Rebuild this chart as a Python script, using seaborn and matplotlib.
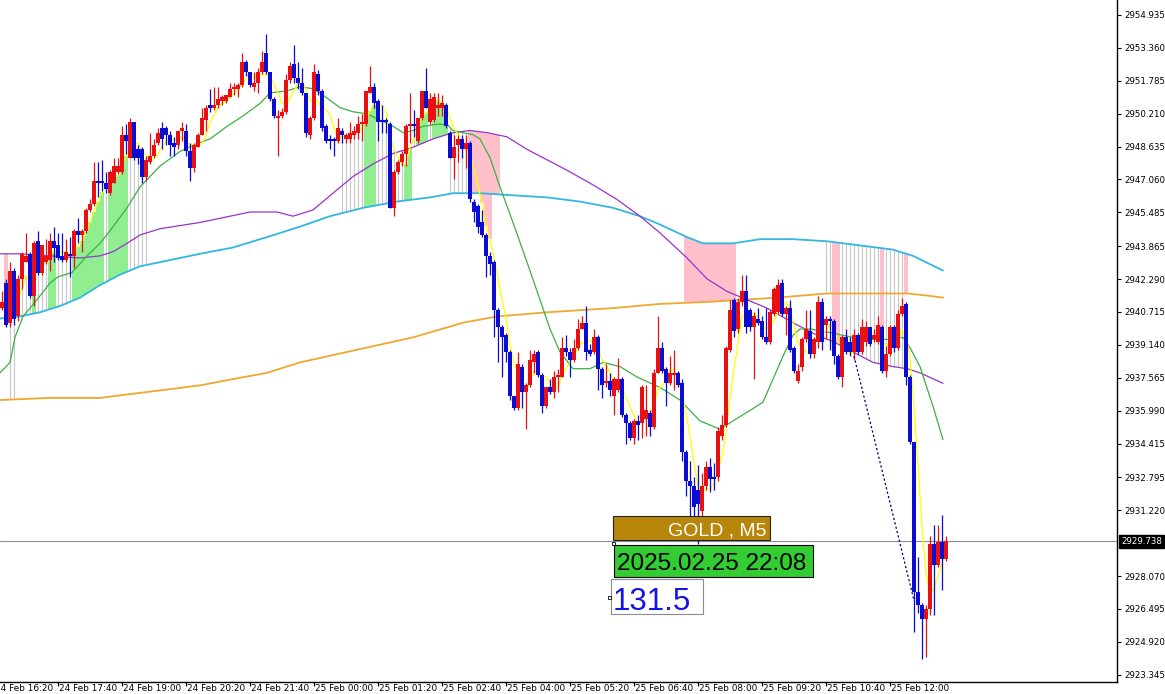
import numpy as np
import pandas as pd
import matplotlib
matplotlib.use('Agg')  # no display
import matplotlib.pyplot as plt
from matplotlib.patches import Rectangle
import seaborn as sns

# GOLD M5 candles, bar 0 = 24 Feb 16:30
opens = [
    2940.9, 2942.1, 2940.2, 2942.7, 2940.5, 2942.3, 2943.1, 2943.5, 2941.5, 2944.1,
    2942.6, 2943.1, 2943.2, 2944.1, 2943.9, 2943.4, 2943.2, 2943.5, 2943.4, 2944.6,
    2944.4, 2944.6, 2945.6, 2945.9, 2947.0, 2947.0, 2946.9, 2946.4, 2946.9, 2947.4,
    2947.4, 2949.2, 2948.1, 2949.8, 2948.5, 2948.5, 2947.2, 2947.9, 2948.2, 2948.8,
    2949.5, 2949.5, 2949.2, 2948.8, 2948.7, 2949.4, 2949.4, 2948.4, 2947.6, 2948.6,
    2949.2, 2949.9, 2950.6, 2950.5, 2950.6, 2950.8, 2950.8, 2951.0, 2951.4, 2951.4,
    2951.6, 2952.7, 2952.2, 2951.5, 2951.7, 2952.2, 2953.1, 2952.2, 2950.9, 2950.0,
    2950.1, 2950.3, 2951.8, 2952.6, 2951.9, 2951.7, 2951.2, 2949.2, 2950.0, 2952.1,
    2951.3, 2949.6, 2949.0, 2949.0, 2948.9, 2949.4, 2949.0, 2949.0, 2949.2, 2949.3,
    2949.7, 2949.7, 2951.2, 2951.5, 2950.8, 2949.9, 2949.9, 2949.7, 2945.7, 2947.4,
    2947.9, 2948.3, 2949.6, 2949.7, 2948.9, 2950.0, 2951.3, 2949.8, 2949.9, 2950.5,
    2950.5, 2950.6, 2949.3, 2948.1, 2948.7, 2949.0, 2948.5, 2948.8, 2946.0, 2945.8,
    2945.0, 2944.4, 2943.4, 2943.1, 2940.8, 2940.0, 2939.6, 2938.8, 2936.7, 2936.1,
    2938.1, 2936.9, 2937.2, 2938.3, 2938.8, 2937.7, 2936.2, 2937.1, 2936.9, 2937.6,
    2937.6, 2939.0, 2938.8, 2938.4, 2939.0, 2939.9, 2940.2, 2938.9, 2938.8, 2939.5,
    2938.0, 2937.3, 2937.4, 2936.7, 2937.0, 2937.5, 2935.8, 2935.4, 2934.7, 2935.5,
    2935.4, 2935.6, 2935.9, 2935.2, 2937.8, 2939.0, 2938.0, 2937.3, 2937.7, 2937.8,
    2937.3, 2934.0, 2932.6, 2932.4, 2932.2, 2931.2, 2932.4, 2933.3, 2932.8, 2932.8,
    2934.8, 2935.3, 2938.9, 2941.3, 2939.9, 2941.2, 2941.7, 2940.8, 2940.0, 2940.4,
    2940.3, 2939.5, 2939.3, 2940.6, 2940.7, 2942.1, 2940.6, 2940.9, 2939.0, 2937.4,
    2938.1, 2939.4, 2939.8, 2938.7, 2939.3, 2941.2, 2940.1, 2940.4, 2940.3, 2938.6,
    2937.6, 2939.5, 2939.3, 2938.8, 2939.6, 2938.8, 2939.3, 2940.0, 2939.4, 2939.3,
    2940.0, 2937.9, 2938.7, 2940.0, 2939.0, 2940.6, 2941.1, 2937.6, 2934.5, 2927.3,
    2926.7, 2926.0, 2926.5, 2929.6, 2928.6, 2929.7, 2928.9,
]
highs = [
    2941.7, 2942.3, 2943.1, 2942.8, 2942.5, 2943.6, 2944.5, 2943.6, 2944.1, 2944.6,
    2943.9, 2944.2, 2944.5, 2944.8, 2944.5, 2944.5, 2944.2, 2944.3, 2944.7, 2945.2,
    2944.7, 2945.7, 2946.1, 2947.9, 2947.9, 2948.0, 2947.4, 2947.5, 2948.1, 2948.1,
    2949.6, 2949.7, 2950.0, 2949.8, 2948.7, 2948.6, 2948.2, 2949.3, 2949.0, 2949.5,
    2949.8, 2949.6, 2949.4, 2949.1, 2949.4, 2949.8, 2949.7, 2948.8, 2948.8, 2949.3,
    2950.5, 2950.6, 2951.4, 2951.5, 2951.5, 2951.1, 2951.1, 2951.7, 2951.7, 2951.7,
    2953.1, 2952.8, 2952.2, 2952.2, 2952.4, 2953.2, 2954.0, 2952.2, 2951.0, 2950.4,
    2950.5, 2952.1, 2952.7, 2953.5, 2952.7, 2952.4, 2951.2, 2950.1, 2952.6, 2952.3,
    2951.4, 2949.7, 2949.2, 2949.1, 2950.0, 2949.5, 2949.3, 2949.8, 2949.6, 2950.1,
    2950.2, 2951.3, 2952.5, 2951.7, 2950.9, 2950.6, 2950.0, 2949.8, 2947.5, 2948.0,
    2948.4, 2949.7, 2951.2, 2950.4, 2950.0, 2951.3, 2952.4, 2951.2, 2951.2, 2951.2,
    2951.1, 2950.7, 2949.4, 2949.2, 2949.2, 2949.2, 2949.2, 2948.9, 2946.1, 2945.9,
    2945.6, 2944.5, 2943.6, 2943.2, 2940.9, 2940.1, 2939.7, 2938.9, 2936.7, 2938.8,
    2938.2, 2937.3, 2938.9, 2938.9, 2938.9, 2937.8, 2937.1, 2937.5, 2937.9, 2938.0,
    2939.5, 2939.6, 2939.0, 2939.4, 2940.4, 2940.5, 2941.0, 2939.2, 2939.9, 2939.6,
    2938.1, 2938.2, 2937.8, 2937.6, 2938.5, 2937.6, 2935.9, 2935.5, 2935.6, 2935.8,
    2937.2, 2937.2, 2936.0, 2938.0, 2940.5, 2939.3, 2938.1, 2938.6, 2938.9, 2937.9,
    2937.5, 2934.1, 2933.6, 2932.8, 2933.4, 2933.0, 2933.6, 2933.7, 2933.5, 2935.2,
    2935.8, 2939.1, 2941.3, 2941.4, 2941.4, 2942.5, 2942.5, 2940.9, 2940.7, 2940.9,
    2940.5, 2940.9, 2940.8, 2941.9, 2942.3, 2942.3, 2941.0, 2941.3, 2939.1, 2938.2,
    2939.5, 2940.8, 2940.8, 2939.5, 2941.5, 2941.4, 2940.5, 2940.5, 2940.4, 2938.7,
    2939.6, 2939.9, 2939.5, 2939.9, 2939.7, 2940.4, 2940.3, 2940.0, 2939.9, 2940.5,
    2940.1, 2939.1, 2940.1, 2940.1, 2940.8, 2941.4, 2941.2, 2937.7, 2934.5, 2929.0,
    2926.8, 2926.7, 2930.0, 2930.5, 2930.5, 2931.0, 2930.0,
]
lows = [
    2940.8, 2940.0, 2940.0, 2940.1, 2940.3, 2941.8, 2943.1, 2941.4, 2941.0, 2942.5,
    2942.5, 2943.0, 2942.7, 2943.1, 2943.2, 2943.1, 2943.1, 2942.4, 2942.8, 2944.0,
    2943.6, 2944.5, 2945.5, 2945.8, 2946.2, 2946.5, 2946.4, 2946.3, 2946.9, 2947.3,
    2947.3, 2948.3, 2948.1, 2948.0, 2947.8, 2946.9, 2947.0, 2947.8, 2948.1, 2948.7,
    2948.5, 2948.7, 2948.2, 2948.2, 2948.5, 2948.9, 2948.2, 2947.0, 2947.4, 2948.6,
    2949.2, 2949.4, 2950.3, 2950.4, 2950.5, 2950.6, 2950.7, 2951.0, 2951.1, 2951.0,
    2951.5, 2952.0, 2951.5, 2951.3, 2951.2, 2952.1, 2952.1, 2950.8, 2950.0, 2948.2,
    2950.0, 2950.2, 2951.7, 2951.7, 2951.4, 2951.1, 2949.1, 2949.0, 2949.9, 2951.1,
    2949.4, 2948.8, 2948.5, 2948.2, 2948.8, 2948.8, 2948.8, 2948.8, 2949.0, 2949.0,
    2948.9, 2949.6, 2951.2, 2950.5, 2948.9, 2949.3, 2949.3, 2945.7, 2945.3, 2947.3,
    2947.7, 2947.7, 2948.8, 2949.1, 2948.8, 2949.9, 2950.5, 2949.7, 2949.8, 2950.1,
    2950.1, 2949.5, 2948.1, 2947.1, 2947.9, 2948.1, 2947.6, 2946.0, 2945.0, 2944.5,
    2944.3, 2942.4, 2942.5, 2939.5, 2938.3, 2937.6, 2938.3, 2936.5, 2936.0, 2936.0,
    2936.1, 2935.1, 2937.1, 2937.8, 2937.6, 2935.9, 2936.1, 2936.8, 2936.6, 2936.9,
    2937.6, 2938.6, 2937.6, 2938.3, 2938.9, 2939.9, 2938.4, 2938.6, 2938.7, 2937.0,
    2936.6, 2937.1, 2936.7, 2935.8, 2936.9, 2935.7, 2934.4, 2934.6, 2934.4, 2934.6,
    2934.7, 2934.8, 2934.8, 2935.1, 2937.8, 2937.8, 2936.2, 2937.2, 2937.0, 2937.1,
    2933.6, 2931.9, 2930.5, 2930.5, 2929.6, 2930.4, 2932.2, 2932.1, 2932.2, 2932.6,
    2934.6, 2935.2, 2938.8, 2939.5, 2939.7, 2941.0, 2939.7, 2939.8, 2937.5, 2940.1,
    2939.4, 2939.2, 2939.2, 2940.5, 2940.6, 2940.5, 2939.6, 2938.8, 2937.8, 2937.3,
    2937.9, 2939.3, 2938.5, 2938.5, 2939.0, 2938.9, 2939.4, 2938.9, 2938.2, 2937.5,
    2937.1, 2938.7, 2938.6, 2938.4, 2938.7, 2938.7, 2939.1, 2939.1, 2939.3, 2939.2,
    2937.8, 2937.6, 2938.6, 2938.8, 2938.9, 2940.5, 2937.2, 2934.4, 2925.4, 2926.3,
    2924.1, 2924.2, 2926.2, 2926.2, 2928.5, 2927.4, 2928.8,
]
closes = [
    2941.2, 2940.1, 2942.7, 2940.4, 2942.3, 2943.5, 2943.4, 2941.5, 2944.0, 2942.6,
    2943.9, 2943.4, 2944.1, 2943.8, 2943.3, 2943.2, 2943.6, 2943.4, 2944.6, 2944.4,
    2944.6, 2945.6, 2945.9, 2947.0, 2946.9, 2946.9, 2946.6, 2947.4, 2947.7, 2947.7,
    2949.2, 2948.9, 2949.8, 2948.1, 2948.1, 2947.2, 2948.0, 2948.2, 2948.7, 2949.3,
    2949.0, 2949.2, 2948.7, 2948.6, 2949.4, 2949.5, 2948.4, 2947.6, 2948.7, 2949.2,
    2950.0, 2950.5, 2950.5, 2950.6, 2950.9, 2951.0, 2951.1, 2951.4, 2951.5, 2951.6,
    2952.7, 2952.2, 2951.6, 2951.7, 2952.2, 2952.7, 2952.2, 2950.9, 2950.1, 2950.1,
    2950.3, 2951.8, 2952.5, 2951.9, 2951.7, 2951.2, 2949.3, 2950.0, 2952.2, 2951.3,
    2949.5, 2948.9, 2948.9, 2948.9, 2949.5, 2949.2, 2949.2, 2949.3, 2949.4, 2949.7,
    2949.8, 2951.3, 2951.5, 2950.7, 2949.8, 2949.8, 2949.8, 2945.7, 2947.4, 2947.9,
    2948.3, 2949.6, 2949.7, 2949.6, 2950.0, 2951.3, 2950.5, 2950.9, 2951.0, 2950.6,
    2950.7, 2949.6, 2948.1, 2948.6, 2949.0, 2948.5, 2948.8, 2946.1, 2945.5, 2944.8,
    2944.4, 2943.4, 2943.0, 2940.8, 2940.0, 2939.5, 2938.8, 2936.7, 2936.1, 2938.2,
    2936.9, 2937.2, 2938.4, 2938.7, 2937.7, 2936.2, 2937.1, 2936.9, 2937.6, 2937.7,
    2939.0, 2938.8, 2938.4, 2939.0, 2939.9, 2940.2, 2938.8, 2938.7, 2939.5, 2938.0,
    2937.2, 2937.4, 2937.0, 2937.5, 2937.5, 2935.8, 2935.4, 2934.7, 2935.5, 2935.3,
    2937.1, 2936.0, 2935.2, 2937.8, 2939.0, 2937.9, 2937.3, 2937.8, 2937.8, 2937.2,
    2934.0, 2932.6, 2932.4, 2931.4, 2931.5, 2932.4, 2933.3, 2932.7, 2932.7, 2935.0,
    2935.3, 2939.0, 2940.8, 2939.8, 2941.2, 2941.7, 2940.0, 2940.0, 2940.5, 2940.2,
    2939.5, 2939.3, 2940.7, 2941.8, 2942.0, 2940.6, 2940.9, 2938.9, 2937.9, 2937.9,
    2939.4, 2939.9, 2938.7, 2939.4, 2941.2, 2939.3, 2940.4, 2940.3, 2938.6, 2937.6,
    2939.5, 2938.8, 2938.8, 2939.6, 2938.8, 2940.0, 2940.0, 2939.2, 2939.6, 2940.1,
    2937.9, 2938.7, 2940.0, 2939.0, 2940.6, 2941.0, 2937.6, 2934.5, 2927.3, 2926.7,
    2926.0, 2926.5, 2929.6, 2928.6, 2929.7, 2928.9, 2929.74,
]

# moving averages: (bar index, price)
green_bar = [-0.5, 2, 3.25, 5.25, 8.75, 12, 14, 17.5, 21.25, 24.5, 27, 31.25, 34.5, 37, 39.5,
             44.5, 47.75, 52, 56.25, 60.25, 64.5, 67, 71.25, 74.5, 77.75, 79.5, 84.5, 87.75,
             91.25, 94.5, 97, 100.25, 102.75, 105.25, 108.75, 111.25, 112.75, 115.25, 117.75,
             119.5, 122, 124.5, 127.75, 131.25, 134.5, 137, 139.5, 142.75, 147, 150.25, 154.5,
             158.75, 164.5, 169.5, 174.5, 179.5, 182.75, 187, 190.25, 192.75, 195.25, 197.75,
             199.5, 202, 207.75, 212.75, 217.75, 222, 225.25, 227, 229.5, 232.75, 235.25]
green_val = [2937.8, 2938.3, 2939.5, 2940.5, 2941.3, 2942.1, 2942.4, 2942.6, 2943.4, 2944.0,
             2944.6, 2945.7, 2946.7, 2947.2, 2947.7, 2948.4, 2948.7, 2949.0, 2949.6, 2950.1,
             2950.7, 2951.2, 2951.3, 2951.5, 2951.4, 2951.2, 2950.5, 2950.3, 2950.2, 2949.9,
             2949.7, 2949.3, 2949.4, 2949.6, 2949.7, 2949.7, 2949.4, 2949.3, 2949.2, 2949.0,
             2948.1, 2946.7, 2945.0, 2943.1, 2941.3, 2939.9, 2938.8, 2938.0, 2938.0, 2938.3,
             2938.1, 2937.6, 2937.1, 2936.5, 2935.5, 2935.1, 2935.5, 2936.0, 2936.4, 2937.5,
             2938.6, 2939.6, 2939.9, 2939.9, 2939.7, 2939.5, 2939.4, 2939.4, 2939.5, 2939.0,
             2938.1, 2936.2, 2934.6]
purple_bar = [-0.5, 4.5, 12, 19.5, 24.5, 27.75, 31.25, 34.5, 39.5, 49.5, 62, 68.75, 72.75,
              77.75, 82.75, 87.75, 92.75, 97.75, 102.75, 107.75, 112.75, 117, 121.25, 126.25,
              131.25, 136.25, 141.25, 147.75, 153.75, 159.5, 164.5, 171.25, 176.25, 181.25,
              186.25, 191.25, 197.75, 203.75, 207.75, 212.75, 217.75, 222.75, 226.25, 229.5, 235.25]
purple_val = [2943.5, 2943.5, 2943.4, 2943.3, 2943.4, 2943.6, 2944.0, 2944.4, 2944.7, 2945.0,
              2945.5, 2945.5, 2945.3, 2945.6, 2946.4, 2947.2, 2947.8, 2948.3, 2948.6, 2949.0,
              2949.3, 2949.4, 2949.3, 2949.1, 2948.5, 2948.0, 2947.5, 2946.8, 2946.1, 2945.3,
              2944.5, 2943.3, 2942.3, 2941.7, 2941.3, 2940.9, 2940.2, 2939.6, 2939.3, 2938.8,
              2938.3, 2938.1, 2938.0, 2937.8, 2937.3]
cyan_bar = [-0.5, 4.5, 9.5, 14.5, 19.5, 24.5, 29.5, 34.5, 39.5, 49.5, 57.75, 66.25, 74.5, 82,
            90.25, 98.75, 107, 112.75, 119.5, 127.75, 136.25, 144.5, 152.75, 159.5, 164.5,
            171.25, 175.25, 182.75, 189.5, 197.75, 206.25, 214.5, 222.75, 227.75, 235.25]
cyan_val = [2940.4, 2940.5, 2940.7, 2941.0, 2941.4, 2942.0, 2942.5, 2942.9, 2943.1, 2943.5,
            2943.8, 2944.3, 2944.8, 2945.3, 2945.7, 2946.0, 2946.2, 2946.4, 2946.4, 2946.3,
            2946.2, 2946.0, 2945.7, 2945.3, 2944.9, 2944.3, 2944.0, 2944.0, 2944.2, 2944.2,
            2944.1, 2943.9, 2943.7, 2943.4, 2942.7]
orange_bar = [-0.5, 12, 24.5, 32.75, 41.25, 49.5, 57.75, 66.25, 74.5, 86.25, 102.75, 115.25,
              123.75, 136.25, 144.5, 152.75, 164.5, 177, 185.25, 193.75, 206.25, 214.5, 226.25,
              231.25, 235.25]
orange_val = [2936.5, 2936.6, 2936.6, 2936.8, 2937.0, 2937.2, 2937.5, 2937.8, 2938.3, 2938.8,
              2939.5, 2940.2, 2940.5, 2940.7, 2940.8, 2940.9, 2941.1, 2941.2, 2941.3, 2941.4,
              2941.6, 2941.6, 2941.6, 2941.5, 2941.4]

# signal histogram: (first bar, last bar, kind, between line, and line)
segments = [
    (1, 1, 'pink', 'purple', 'yellow'), (2, 3, 'gray', 'cyan', 'orange'),
    (4, 7, 'gray', 'yellow', 'cyan'), (8, 8, 'green', 'yellow', 'cyan'),
    (9, 11, 'gray', 'yellow', 'cyan'), (12, 13, 'green', 'yellow', 'cyan'),
    (14, 17, 'gray', 'yellow', 'cyan'), (18, 25, 'green', 'yellow', 'cyan'),
    (26, 26, 'gray', 'yellow', 'cyan'), (27, 31, 'green', 'yellow', 'cyan'),
    (32, 36, 'gray', 'yellow', 'cyan'), (85, 90, 'gray', 'yellow', 'cyan'),
    (91, 93, 'green', 'yellow', 'cyan'), (94, 100, 'gray', 'yellow', 'cyan'),
    (101, 102, 'green', 'yellow', 'cyan'), (103, 103, 'gray', 'yellow', 'purple'),
    (104, 106, 'green', 'yellow', 'purple'), (107, 107, 'gray', 'yellow', 'purple'),
    (108, 111, 'green', 'yellow', 'purple'), (112, 116, 'gray', 'green', 'cyan'),
    (117, 124, 'pink', 'purple', 'cyan'), (120, 122, 'pink', 'cyan', 'yellow'),
    (171, 183, 'pink', 'cyan', 'orange'), (206, 207, 'gray', 'cyan', 'orange'),
    (208, 209, 'pink', 'cyan', 'purple'), (210, 219, 'gray', 'cyan', 'purple'),
    (220, 220, 'pink', 'cyan', 'purple'), (221, 225, 'gray', 'cyan', 'purple'),
    (226, 226, 'pink', 'cyan', 'orange'),
]

price_ticks = [2954.935, 2953.360, 2951.785, 2950.210, 2948.635, 2947.060, 2945.485,
               2943.865, 2942.290, 2940.715, 2939.140, 2937.565, 2935.990, 2934.415,
               2932.795, 2931.220, 2928.070, 2926.495, 2924.920, 2923.345]
price_labels = ['%.3f' % p for p in price_ticks]
time_labels = ['24 Feb 16:20', '24 Feb 17:40', '24 Feb 19:00', '24 Feb 20:20', '24 Feb 21:40',
               '25 Feb 00:00', '25 Feb 01:20', '25 Feb 02:40', '25 Feb 04:00', '25 Feb 05:20',
               '25 Feb 06:40', '25 Feb 08:00', '25 Feb 09:20', '25 Feb 10:40', '25 Feb 12:00']
last_price = 2929.738
trend_bars = [213, 228]
trend_prices = [2938.6, 2926.9]

# ---------------------------------------------------------------
df = pd.DataFrame({'open': opens, 'high': highs, 'low': lows, 'close': closes})
bars = df.index.to_numpy()
df['sma5'] = df['close'].rolling(5, min_periods=1).mean()

ma = {
    'yellow': df['sma5'].to_numpy(),
    'green': np.interp(bars, green_bar, green_val),
    'purple': np.interp(bars, purple_bar, purple_val),
    'cyan': np.interp(bars, cyan_bar, cyan_val),
    'orange': np.interp(bars, orange_bar, orange_val),
}

sns.set_theme(style='white')
plt.rcParams['font.family'] = ['DejaVu Sans']

W, H = 1165, 694
fig = plt.figure(figsize=(W / 100, H / 100), dpi=100)
ax = fig.add_axes([0, 12 / H, 1117 / W, 682 / H])

fill_col = {'green': '#90ee90', 'pink': '#ffc0cb'}
for a, b, kind, l1, l2 in segments:
    idx = np.arange(a, b + 1)
    lo = np.minimum(ma[l1][idx], ma[l2][idx])
    hi = np.maximum(ma[l1][idx], ma[l2][idx])
    if kind == 'gray':
        ax.vlines(idx, lo, hi, colors='#c8c8c8', lw=0.8, zorder=1)
    else:
        ax.bar(idx, hi - lo, bottom=lo, width=1.0, color=fill_col[kind], lw=0, zorder=1)

ax.axhline(last_price, color='#8a8f96', lw=0.8, zorder=1.5)

sns.lineplot(x=orange_bar, y=orange_val, ax=ax, color='#f0a830', lw=1.3, estimator=None, zorder=2)
sns.lineplot(x=cyan_bar, y=cyan_val, ax=ax, color='#30b8e0', lw=1.3, estimator=None, zorder=2)
sns.lineplot(x=purple_bar, y=purple_val, ax=ax, color='#9933cc', lw=0.9, estimator=None, zorder=2)
sns.lineplot(x=green_bar, y=green_val, ax=ax, color='#3cb043', lw=0.9, estimator=None, zorder=2)
sns.lineplot(x=bars, y=ma['yellow'], ax=ax, color='#ffff00', lw=0.9, estimator=None, zorder=2)

# candles: red = up, blue = down
up = df['close'] >= df['open']
col = np.where(up, '#e81010', '#0c0cd0')
ax.vlines(bars, df['low'], df['high'], colors=col, lw=0.9, zorder=3)
body_lo = np.minimum(df['open'], df['close'])
body_h = np.maximum((df['close'] - df['open']).abs(), 0.05)
ax.bar(bars, body_h, bottom=body_lo, width=0.8, color=col, lw=0, zorder=3)

ax.plot(trend_bars, trend_prices, color='#000080', lw=0.9, dashes=(1.8, 1.8), zorder=4)

ax.set_xlim(-0.5, (1117 - 2) / 4)
ax.set_ylim(2923.0, 2955.65)
ax.set_xlabel('')
ax.set_ylabel('')
for s in ['top', 'left']:
    ax.spines[s].set_visible(False)
for s in ['right', 'bottom']:
    ax.spines[s].set_color('black')
    ax.spines[s].set_linewidth(1.0)

ax.yaxis.tick_right()
ax.set_yticks(price_ticks)
ax.set_yticklabels(price_labels)
ax.tick_params(axis='y', right=True, left=False, length=3, width=0.8, pad=2.5,
               labelsize=6.2, colors='black')

time_tick_bar = [-2 + 16 * j for j in range(len(time_labels))]
ax.set_xticks([t for t in time_tick_bar if t >= 0])
ax.set_xticklabels([])
ax.tick_params(axis='x', bottom=True, length=3, width=0.8, colors='black')
for t, lab in zip(time_tick_bar, time_labels):
    ax.annotate(lab, xy=(t, 0), xycoords=('data', 'axes fraction'), xytext=(1, -2),
                textcoords='offset pixels', ha='left', va='top', fontsize=6.4,
                color='black', annotation_clip=False)

ax.annotate('%.3f' % last_price, xy=(1, last_price), xycoords=('axes fraction', 'data'),
            xytext=(4, 0), textcoords='offset pixels', ha='left', va='center',
            fontsize=6.2, color='white', annotation_clip=False,
            bbox=dict(boxstyle='square,pad=0.25', fc='black', ec='black'))


# label objects in screen pixels (like the terminal's labels)
def fx(px):
    return px / W


def fy(py):
    return 1 - py / H


lab_font = ['Liberation Sans', 'DejaVu Sans']
fig.add_artist(Rectangle((fx(613), fy(540)), 157 / W, 24 / H, transform=fig.transFigure,
                         fc='#b8860b', ec='#222222', lw=0.8))
fig.text(fx(766), fy(535.5), 'GOLD , M5', ha='right', va='baseline', color='white',
         fontsize=14, family=lab_font)
fig.add_artist(Rectangle((fx(614), fy(577)), 199 / W, 32 / H, transform=fig.transFigure,
                         fc='#33cc33', ec='black', lw=0.8))
fig.text(fx(617), fy(570.5), '2025.02.25 22:08', ha='left', va='baseline', color='black',
         fontsize=17.5, family=lab_font)
fig.add_artist(Rectangle((fx(611), fy(614)), 92 / W, 35 / H, transform=fig.transFigure,
                         fc='white', ec='#8c8c8c', lw=0.8))
fig.text(fx(613), fy(610), '131.5', ha='left', va='baseline', color='#1414e6',
         fontsize=22.5, family=lab_font)
for sx, sy in [(611.5, 544.5), (607.5, 598.5)]:
    fig.add_artist(Rectangle((fx(sx), fy(sy)), 3 / W, 3 / H, transform=fig.transFigure,
                             fc='white', ec='black', lw=0.6))

fig.savefig('out.png', dpi=100, facecolor='white')
